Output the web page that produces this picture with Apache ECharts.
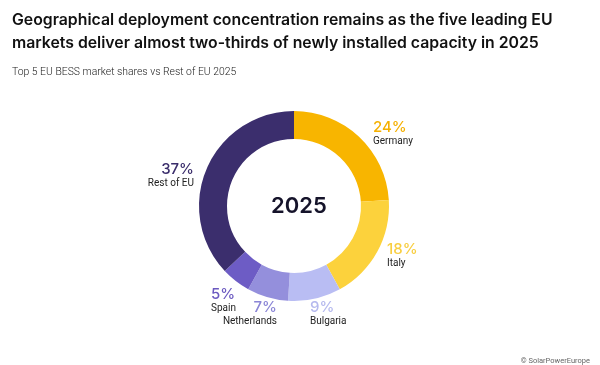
<!DOCTYPE html>
<html><head><meta charset="utf-8">
<script src="https://cdn.jsdelivr.net/npm/echarts@6/dist/echarts.min.js"></script>
<style>html,body{margin:0;padding:0;background:#fff}#c{width:600px;height:365px}</style>
</head><body><div id="c"></div>
<script>
const markets = ["Germany", "Italy", "Bulgaria", "Netherlands", "Spain", "Rest of EU"];
const shares = [24, 18, 9, 7, 5, 37];
const sliceColors = ["#F8B500", "#FCD23C", "#B9BDF3", "#948FDC", "#6D5CC5", "#3B2E6D"];
const labelColors = ["#F5B000", "#F8CE40", "#B5B9EE", "#8A85D6", "#6B59C0", "#3A2D6B"];
const centerLabel = "2025";

// label placement (text anchor positions) per market
const labelPos = {
  "Germany": {x: 373, y: 120, align: "left"},
  "Italy": {x: 387, y: 242, align: "left"},
  "Bulgaria": {x: 310, y: 300, align: "left"},
  "Netherlands": {x: 277, y: 300, align: "right"},
  "Spain": {x: 211, y: 287, align: "left"},
  "Rest of EU": {x: 194, y: 162, align: "right"}
};

const chart = echarts.init(document.getElementById('c'), null, {renderer: 'canvas'});
chart.setOption({
  backgroundColor: '#ffffff',
  animation: false,
  title: [
    {text: "Geographical deployment concentration remains as the five leading EU\nmarkets deliver almost two-thirds of newly installed capacity in 2025",
     left: 7, top: 4,
     textStyle: {fontFamily: 'Inter', fontWeight: 600, fontSize: 15.8, lineHeight: 23, color: '#111'}},
    {text: "Top 5 EU BESS market shares vs Rest of EU 2025", left: 7, top: 62,
     textStyle: {fontFamily: 'Roboto', fontWeight: 300, fontSize: 10.4, color: '#222'}},
    {text: centerLabel, left: 294, top: 201, textAlign: 'center', textVerticalAlign: 'middle',
     textStyle: {fontFamily: 'Inter', fontWeight: 600, fontSize: 22, color: '#15132a'}},
    {text: "© SolarPowerEurope", right: 10, top: 357, padding: 0,
     textStyle: {fontFamily: 'Roboto', fontSize: 7.5, fontWeight: 400, color: '#666'}}
  ],
  series: [{
    type: 'pie',
    center: [294, 206],
    radius: [67, 95],
    startAngle: 90,
    clockwise: true,
    silent: true,
    itemStyle: {borderWidth: 0},
    labelLine: {show: false},
    data: markets.map((m, i) => ({
      name: m, value: shares[i],
      itemStyle: {color: sliceColors[i]},
      label: {
        rich: {
          p: {fontFamily: 'Inter', fontSize: 15, fontWeight: 500, color: labelColors[i], lineHeight: 15, align: labelPos[m].align},
          n: {fontFamily: 'Roboto', fontSize: 10, fontWeight: 400, color: '#222', lineHeight: 13, align: labelPos[m].align}
        }
      }
    })),
    label: {
      show: true,
      position: 'outside',
      formatter: p => '{p|' + p.value + '%}\n{n|' + p.name + '}'
    },
    labelLayout: function (params) {
      const pos = labelPos[markets[params.dataIndex]];
      return {x: pos.x, y: pos.y, align: pos.align, verticalAlign: 'top', moveOverlap: null};
    }
  }]
});
</script></body></html>
